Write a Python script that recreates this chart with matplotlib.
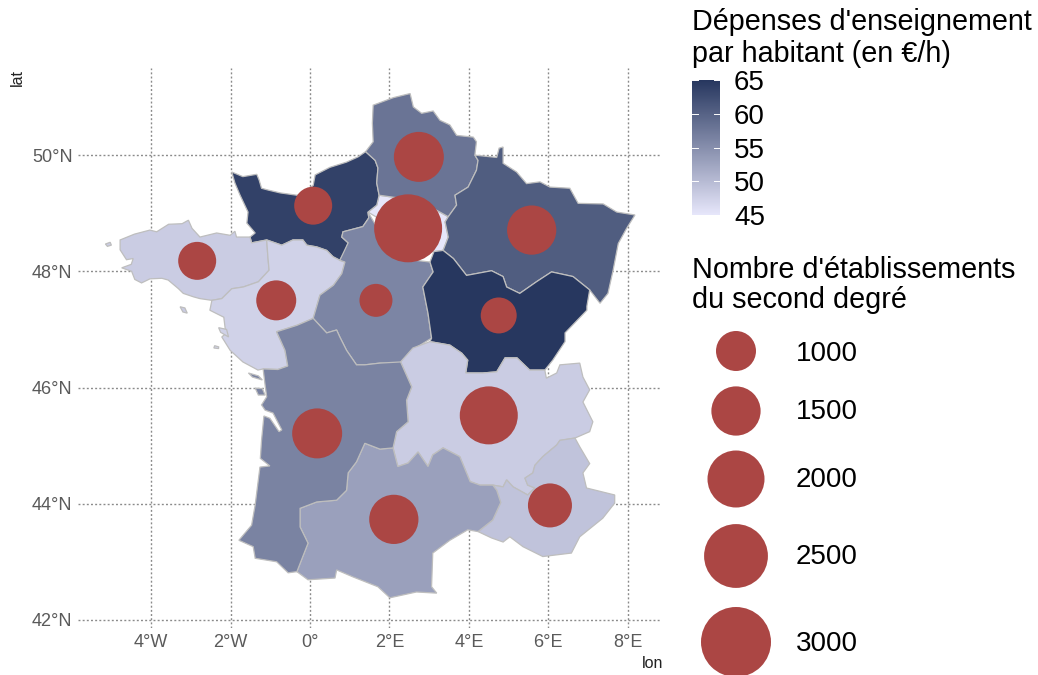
import matplotlib
matplotlib.use("Agg")
import matplotlib.pyplot as plt
from matplotlib.colors import LinearSegmentedColormap, Normalize
from matplotlib.patches import Polygon
from matplotlib.cm import ScalarMappable

plt.rcParams['font.family'] = ['Liberation Sans', 'DejaVu Sans']

# Regional outlines, (lon, lat) in degrees
normandie = [(-1.97,49.71),(-1.69,49.63),(-1.34,49.67),(-1.28,49.57),(-1.22,49.43),(-1.06,49.40),(-0.75,49.35),(-0.33,49.31),(-0.08,49.37),(0.08,49.48),(0.13,49.66),(0.50,49.79),(0.92,49.88),(1.21,49.97),(1.40,50.06),(1.64,49.91),(1.71,49.78),(1.68,49.52),(1.74,49.31),(1.68,49.14),(1.46,49.02),(1.48,48.92),(1.33,48.77),(0.83,48.68),(0.80,48.59),(0.96,48.49),(0.88,48.34),(0.75,48.19),(0.58,48.25),(0.42,48.36),(0.17,48.42),(-0.08,48.45),(-0.18,48.54),(-0.43,48.54),(-0.71,48.45),(-1.09,48.54),(-1.47,48.49),(-1.51,48.59),(-1.38,48.66),(-1.59,48.83),(-1.56,49.02),(-1.76,49.31),(-1.89,49.52)]
bretagne = [(-4.78,48.54),(-4.42,48.64),(-4.03,48.71),(-3.86,48.68),(-3.56,48.81),(-3.22,48.82),(-3.06,48.88),(-2.97,48.74),(-2.77,48.59),(-2.35,48.66),(-2.01,48.62),(-1.89,48.69),(-1.85,48.59),(-1.51,48.59),(-1.47,48.49),(-1.09,48.54),(-1.06,48.25),(-1.03,48.02),(-1.30,47.82),(-1.68,47.73),(-1.97,47.70),(-2.22,47.53),(-2.47,47.50),(-2.77,47.53),(-2.93,47.56),(-3.19,47.62),(-3.31,47.70),(-3.57,47.85),(-3.73,47.88),(-4.03,47.87),(-4.24,47.80),(-4.41,47.86),(-4.49,48.00),(-4.74,48.06),(-4.50,48.12),(-4.45,48.22),(-4.62,48.20),(-4.78,48.37)]
pays_de_la_loire = [(-1.09,48.54),(-0.71,48.45),(-0.43,48.54),(-0.18,48.54),(-0.08,48.45),(0.17,48.42),(0.42,48.36),(0.58,48.25),(0.75,48.19),(0.88,48.16),(0.80,47.96),(0.59,47.76),(0.25,47.59),(0.08,47.19),(-0.33,47.07),(-0.84,46.96),(-0.63,46.64),(-0.56,46.37),(-0.81,46.31),(-1.18,46.32),(-1.31,46.30),(-1.69,46.44),(-2.01,46.64),(-2.22,46.87),(-2.12,46.93),(-2.17,47.21),(-2.52,47.33),(-2.47,47.50),(-2.22,47.53),(-1.97,47.70),(-1.68,47.73),(-1.30,47.82),(-1.03,48.02),(-1.06,48.25)]
hauts_de_france = [(1.59,50.86),(2.10,50.99),(2.52,51.06),(2.60,50.83),(2.81,50.72),(3.10,50.76),(3.27,50.60),(3.52,50.52),(3.69,50.34),(4.11,50.31),(4.19,50.23),(4.15,50.00),(4.23,49.91),(4.19,49.74),(3.98,49.45),(3.65,49.31),(3.69,49.14),(3.48,48.94),(3.19,49.05),(2.77,49.14),(2.26,49.26),(1.74,49.31),(1.68,49.52),(1.71,49.78),(1.64,49.91),(1.40,50.06),(1.59,50.23),(1.57,50.55)]
ile_de_france = [(1.46,49.02),(1.68,49.14),(1.74,49.31),(2.26,49.26),(2.77,49.14),(3.19,49.05),(3.48,48.94),(3.40,48.85),(3.48,48.59),(3.35,48.36),(3.12,48.34),(2.52,48.30),(1.90,48.40),(1.68,48.93)]
centre_val_de_loire = [(0.83,48.68),(1.33,48.77),(1.48,48.92),(1.46,49.02),(1.58,48.88),(2.15,48.23),(3.02,48.16),(3.10,47.99),(2.84,47.73),(2.97,47.28),(3.06,46.85),(2.56,46.64),(2.26,46.41),(1.76,46.42),(1.38,46.39),(1.17,46.39),(0.92,46.64),(0.75,46.87),(0.67,46.99),(0.42,46.94),(0.08,47.19),(0.25,47.59),(0.59,47.76),(0.80,47.96),(0.88,48.16),(0.75,48.19),(0.96,48.49),(0.80,48.59)]
grand_est = [(4.15,50.00),(4.70,49.96),(4.76,50.12),(4.86,50.14),(4.86,49.86),(5.20,49.71),(5.45,49.51),(5.79,49.54),(6.04,49.45),(6.54,49.43),(6.75,49.17),(7.38,49.16),(7.72,49.02),(8.18,48.97),(7.97,48.74),(7.76,48.48),(7.63,48.02),(7.50,47.62),(7.30,47.45),(7.04,47.68),(6.62,47.91),(6.08,47.99),(5.70,47.82),(5.28,47.62),(4.95,47.73),(4.86,47.91),(4.57,48.01),(3.94,47.93),(3.61,48.22),(3.35,48.36),(3.48,48.59),(3.40,48.85),(3.48,48.94),(3.69,49.14),(3.65,49.31),(3.98,49.45),(4.19,49.74),(4.23,49.91)]
bourgogne_fc = [(3.35,48.36),(3.61,48.22),(3.94,47.93),(4.57,48.01),(4.86,47.91),(4.95,47.73),(5.28,47.62),(5.70,47.82),(6.08,47.99),(6.62,47.91),(7.04,47.68),(6.97,47.40),(6.97,47.33),(6.42,46.94),(6.42,46.79),(6.11,46.47),(5.91,46.30),(5.53,46.30),(5.21,46.51),(4.91,46.51),(4.70,46.27),(4.35,46.25),(3.92,46.25),(3.97,46.47),(3.82,46.59),(3.52,46.73),(3.02,46.79),(3.06,46.85),(2.97,47.28),(2.84,47.73),(3.10,47.99),(3.02,48.16),(3.12,48.34)]
auvergne_ra = [(2.28,46.44),(2.59,46.68),(3.02,46.79),(3.52,46.73),(3.82,46.59),(3.97,46.47),(3.92,46.25),(4.35,46.25),(4.70,46.27),(4.91,46.51),(5.21,46.51),(5.53,46.30),(5.91,46.30),(5.95,46.16),(6.21,46.25),(6.29,46.39),(6.79,46.42),(6.87,46.18),(7.04,45.96),(6.87,45.75),(7.12,45.41),(7.04,45.24),(6.67,45.13),(6.29,45.09),(6.21,45.01),(5.86,44.81),(5.66,44.66),(5.61,44.53),(5.41,44.44),(5.48,44.32),(5.66,44.27),(5.48,44.15),(5.11,44.29),(4.95,44.41),(4.86,44.29),(4.60,44.32),(4.28,44.32),(4.03,44.38),(3.77,44.81),(3.35,44.96),(3.09,44.84),(2.97,44.64),(2.72,44.89),(2.47,44.70),(2.21,44.64),(2.09,44.96),(2.18,45.24),(2.47,45.41),(2.43,45.78),(2.56,46.01)]
occitanie = [(1.38,45.04),(1.76,44.94),(2.09,44.96),(2.21,44.64),(2.47,44.70),(2.72,44.89),(2.97,44.64),(3.09,44.84),(3.35,44.96),(3.77,44.81),(4.03,44.38),(4.28,44.32),(4.60,44.32),(4.70,44.23),(4.80,44.02),(4.60,43.72),(4.23,43.52),(3.97,43.55),(3.52,43.37),(3.09,43.15),(3.06,42.57),(3.19,42.46),(2.68,42.48),(2.01,42.38),(1.71,42.57),(1.08,42.74),(0.67,42.86),(0.63,42.72),(-0.05,42.69),(-0.33,42.83),(-0.05,43.32),(-0.25,43.60),(-0.25,43.92),(0.17,44.03),(0.67,44.06),(0.92,44.23),(0.96,44.53),(1.17,44.72)]
paca = [(6.67,45.13),(6.79,44.98),(7.04,44.69),(6.87,44.53),(6.96,44.27),(7.67,44.15),(7.67,44.01),(7.37,43.75),(6.79,43.43),(6.58,43.15),(5.86,43.09),(5.36,43.26),(5.03,43.43),(4.86,43.34),(4.57,43.41),(4.23,43.52),(4.60,43.72),(4.80,44.02),(4.70,44.23),(4.60,44.32),(4.86,44.29),(4.95,44.41),(5.11,44.29),(5.48,44.15),(5.66,44.27),(5.48,44.32),(5.41,44.44),(5.61,44.53),(5.66,44.66),(5.86,44.81),(6.21,45.01),(6.29,45.09)]
nouvelle_aquitaine = [(-0.63,46.64),(-0.56,46.37),(-0.81,46.31),(-1.18,46.32),(-1.13,46.04),(-1.09,45.84),(-1.22,45.70),(-1.13,45.61),(-0.93,45.56),(-0.71,45.27),(-0.78,45.24),(-1.01,45.47),(-1.16,45.51),(-1.22,45.09),(-1.25,44.78),(-1.01,44.65),(-1.26,44.63),(-1.38,43.98),(-1.47,43.63),(-1.79,43.37),(-1.43,43.26),(-1.38,43.06),(-0.84,43.00),(-0.55,42.81),(-0.33,42.83),(-0.05,43.32),(-0.25,43.60),(-0.25,43.92),(0.17,44.03),(0.67,44.06),(0.92,44.23),(0.96,44.53),(1.17,44.72),(1.38,45.04),(1.76,44.94),(2.09,44.96),(2.18,45.24),(2.47,45.41),(2.43,45.78),(2.56,46.01),(2.28,46.44),(1.76,46.42),(1.38,46.39),(1.17,46.39),(0.92,46.64),(0.75,46.87),(0.67,46.99),(0.42,46.94),(0.08,47.19),(-0.33,47.07),(-0.84,46.96)]

ouessant = [(-5.15,48.47),(-5.03,48.50),(-5.00,48.45),(-5.10,48.43)]
belle_ile = [(-3.27,47.39),(-3.15,47.37),(-3.09,47.28),(-3.20,47.30)]
noirmoutier = [(-2.30,47.03),(-2.10,47.00),(-2.05,46.87),(-2.25,46.95)]
yeu = [(-2.40,46.72),(-2.30,46.70),(-2.30,46.67),(-2.42,46.68)]
re = [(-1.55,46.25),(-1.30,46.20),(-1.20,46.13),(-1.45,46.18)]
oleron = [(-1.38,45.99),(-1.20,45.98),(-1.13,45.87),(-1.30,45.87)]

region_outlines = [ile_de_france, normandie, bretagne, pays_de_la_loire, hauts_de_france,
                   centre_val_de_loire, grand_est, bourgogne_fc, auvergne_ra, paca,
                   occitanie, nouvelle_aquitaine]
region_spending = [45, 63.8, 48, 47.3, 58, 56.1, 60.7, 65, 48, 49, 53, 56.3]
island_outlines = [ouessant, belle_ile, noirmoutier, yeu, re, oleron]
island_spending = [48, 48, 47.3, 47.3, 56.3, 56.3]

centre_lon = [2.74, 0.08, -2.84, -0.85, 1.66, 2.47, 5.58, 4.75, 4.50, 0.18, 2.11, 6.04]
centre_lat = [49.97, 49.13, 48.18, 47.50, 47.50, 48.74, 48.71, 47.24, 45.52, 45.21, 43.73, 43.97]
n_schools = [1545, 905, 905, 1000, 690, 2830, 1500, 815, 2070, 1545, 1500, 1205]

spend_ticks = [45, 50, 55, 60, 65]
size_ticks = [1000, 1500, 2000, 2500, 3000]
lon_ticks = [-4, -2, 0, 2, 4, 6, 8]
lon_labels = ["4°W", "2°W", "0°", "2°E", "4°E", "6°E", "8°E"]
lat_ticks = [42, 44, 46, 48, 50]
lat_labels = ["42°N", "44°N", "46°N", "48°N", "50°N"]

W, H = 1038, 675
fig = plt.figure(figsize=(W/100, H/100), dpi=100)

def rect(x0, y0, x1, y1):
    return [x0/W, 1 - y1/H, (x1-x0)/W, (y1-y0)/H]

cmap = LinearSegmentedColormap.from_list("spend", ["#E6E6FA", "#27375F"])
norm = Normalize(45, 65)
RED = "#AB4644"
BORDER = "#BEBEBE"
GRID = "#8A8A8A"

def area(v):
    return 2.0736 * (400 + 0.4125 * (v - 1000))

ax = fig.add_axes(rect(78, 68, 660, 628))
ax.set_xlim(-5.84, 8.81)
ax.set_ylim(41.86, 51.50)
for spine in ax.spines.values():
    spine.set_visible(False)
ax.set_xticks(lon_ticks, lon_labels)
ax.set_yticks(lat_ticks, lat_labels)
ax.tick_params(length=0, labelsize=13, labelcolor="#5A5A5A", pad=4)
ax.grid(True, color=GRID, lw=1, ls=(0, (1.4, 1.6)))
ax.set_axisbelow(True)
for outline, v in list(zip(region_outlines, region_spending)) + list(zip(island_outlines, island_spending)):
    ax.add_patch(Polygon(outline, closed=True, facecolor=cmap(norm(v)), edgecolor=BORDER, lw=0.9, zorder=2))
ax.scatter(centre_lon, centre_lat, s=[area(v) for v in n_schools], color=RED, lw=0, zorder=3)

# Legend layer
leg = fig.add_axes([0, 0, 1, 1], facecolor="none")
leg.set_xlim(0, W)
leg.set_ylim(H, 0)
leg.axis("off")
leg.text(663, 664, "lon", ha="right", va="center", fontsize=11.5, color="#222222")
leg.text(17, 77, "lat", ha="center", va="center", rotation=90, fontsize=11.5, color="#222222")
leg.text(692, 22, "Dépenses d'enseignement", ha="left", va="center", fontsize=20.7, color="black")
leg.text(692, 54, "par habitant (en €/h)", ha="left", va="center", fontsize=20.7, color="black")
leg.text(692, 270, "Nombre d'établissements", ha="left", va="center", fontsize=20.7, color="black")
leg.text(692, 300, "du second degré", ha="left", va="center", fontsize=20.7, color="black")
key_y = [351, 411, 479, 556, 642]
text_y = [354, 412, 480, 557, 644]
leg.scatter([736]*5, key_y, s=[area(v) for v in size_ticks], color=RED, lw=0)
for y, v in zip(text_y, size_ticks):
    leg.text(796, y, str(v), ha="left", va="center", fontsize=20, color="black")

cax = fig.add_axes(rect(692, 79, 720, 216))
cb = fig.colorbar(ScalarMappable(norm=norm, cmap=cmap), cax=cax)
cax.set_ylim(44.8, 65.2)
cb.set_ticks(spend_ticks)
cb.outline.set_visible(False)
cax.tick_params(length=0, labelsize=20, pad=10, labelcolor="black")
for v in spend_ticks:
    cax.plot([0, 0.2], [v, v], color="white", lw=0.7, transform=cax.get_yaxis_transform())
    cax.plot([0.8, 1], [v, v], color="white", lw=0.7, transform=cax.get_yaxis_transform())

fig.savefig("out.png", dpi=100)
